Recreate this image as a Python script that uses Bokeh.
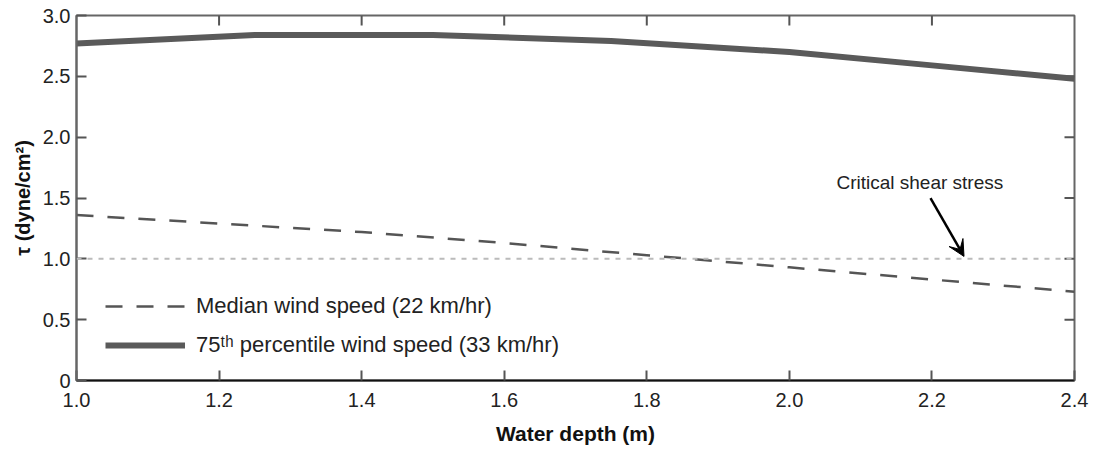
from bokeh.plotting import figure
from bokeh.models import (Range1d, FixedTicker, PrintfTickFormatter, Span,
                          Legend, LegendItem, Arrow, VeeHead, Label)
from bokeh.embed import file_html
from bokeh.resources import INLINE

# ---- data ----
depth_75 = [1.0, 1.25, 1.5, 1.75, 2.0, 2.2, 2.4]
tau_75 = [2.77, 2.84, 2.84, 2.79, 2.70, 2.59, 2.48]

depth_med = [1.0, 1.2, 1.4, 1.6, 1.8, 2.0, 2.2, 2.4]
tau_med = [1.36, 1.29, 1.22, 1.13, 1.03, 0.93, 0.83, 0.73]

critical_tau = 1.0

x_ticks = [1.0, 1.2, 1.4, 1.6, 1.8, 2.0, 2.2, 2.4]
y_ticks = [0, 0.5, 1.0, 1.5, 2.0, 2.5, 3.0]
x_lim = (1.0, 2.4)
y_lim = (0, 3.0)

label_med = "Median wind speed (22 km/hr)"
label_75 = "75\u1d57\u02b0 percentile wind speed (33 km/hr)"
annot_text = "Critical shear stress"
annot_pos = (2.066, 1.627)
arrow_from = (2.198, 1.498)
arrow_to = (2.245, 1.02)

FONT = "Liberation Sans"

p = figure(width=1098, height=454, output_backend="svg", toolbar_location=None,
           x_range=Range1d(*x_lim), y_range=Range1d(*y_lim),
           min_border_left=76, min_border_right=24, min_border_top=15, min_border_bottom=74)
p.background_fill_color = "white"
p.border_fill_color = "white"
p.grid.visible = False
p.outline_line_color = "#666666"
p.outline_line_width = 2

# bottom axis
xa = p.xaxis[0]
xa.ticker = FixedTicker(ticks=x_ticks)
xa.formatter = PrintfTickFormatter(format="%.1f")
xa.axis_label = "Water depth (m)"
xa.axis_label_text_font = FONT
xa.axis_label_text_font_style = "bold"
xa.axis_label_text_font_size = "21px"
xa.axis_label_text_color = "#111111"
xa.axis_label_standoff = 12
xa.major_label_text_font = FONT
xa.major_label_text_font_size = "20px"
xa.major_label_text_color = "#222222"
xa.major_label_standoff = 12
xa.axis_line_color = "#111111"
xa.axis_line_width = 2
xa.major_tick_in = 10
xa.major_tick_out = 0
xa.major_tick_line_color = "#555555"
xa.major_tick_line_width = 2
xa.minor_tick_line_color = None

# left axis
ya = p.yaxis[0]
ya.ticker = FixedTicker(ticks=y_ticks)
ya.formatter = PrintfTickFormatter(format="%.1f")
ya.major_label_overrides = {0: "0"}
ya.axis_label = "\u03c4 (dyne/cm\u00b2)"
ya.axis_label_text_font = FONT
ya.axis_label_text_font_style = "bold"
ya.axis_label_text_font_size = "20px"
ya.axis_label_text_color = "#111111"
ya.axis_label_standoff = 6
ya.major_label_text_font = FONT
ya.major_label_text_font_size = "20px"
ya.major_label_text_color = "#222222"
ya.major_label_standoff = 6
ya.axis_line_color = "#666666"
ya.axis_line_width = 2
ya.major_tick_in = 10
ya.major_tick_out = 0
ya.major_tick_line_color = "#555555"
ya.major_tick_line_width = 2
ya.minor_tick_line_color = None

# mirrored inward ticks on top and right frame edges (no labels)
p.ray(x=x_ticks[1:-1], y=[y_lim[1]] * (len(x_ticks) - 2), length=10, length_units="screen",
      angle=-90, angle_units="deg", line_color="#555555", line_width=2)
p.ray(x=[x_lim[1]] * (len(y_ticks) - 2), y=y_ticks[1:-1], length=10, length_units="screen",
      angle=180, angle_units="deg", line_color="#555555", line_width=2)

# critical shear stress line
p.add_layout(Span(location=critical_tau, dimension="width", line_color="#bbbbbb",
                  line_width=2, line_dash="5 6"))

r_med = p.line(depth_med, tau_med, line_color="#555555", line_width=2.5, line_dash="17 14")
r_75 = p.line(depth_75, tau_75, line_color="#5a5a5a", line_width=6)

legend = Legend(items=[LegendItem(label=label_med, renderers=[r_med]),
                       LegendItem(label=label_75, renderers=[r_75])],
                location=(29, 22), orientation="vertical",
                glyph_width=80, glyph_height=20, label_height=20, spacing=13,
                padding=0, margin=0, label_standoff=11,
                label_text_font=FONT, label_text_font_size="22px", label_text_color="#222222",
                border_line_color=None, background_fill_alpha=0)
p.add_layout(legend)

p.add_layout(Arrow(end=VeeHead(size=16, fill_color="black", line_color="black"),
                   x_start=arrow_from[0], y_start=arrow_from[1],
                   x_end=arrow_to[0], y_end=arrow_to[1],
                   line_color="black", line_width=2.5))
p.add_layout(Label(x=annot_pos[0], y=annot_pos[1], text=annot_text, text_font=FONT,
                   text_font_size="19px", text_baseline="middle", text_color="#222222"))

open("out.html", "w").write(file_html(p, INLINE))
